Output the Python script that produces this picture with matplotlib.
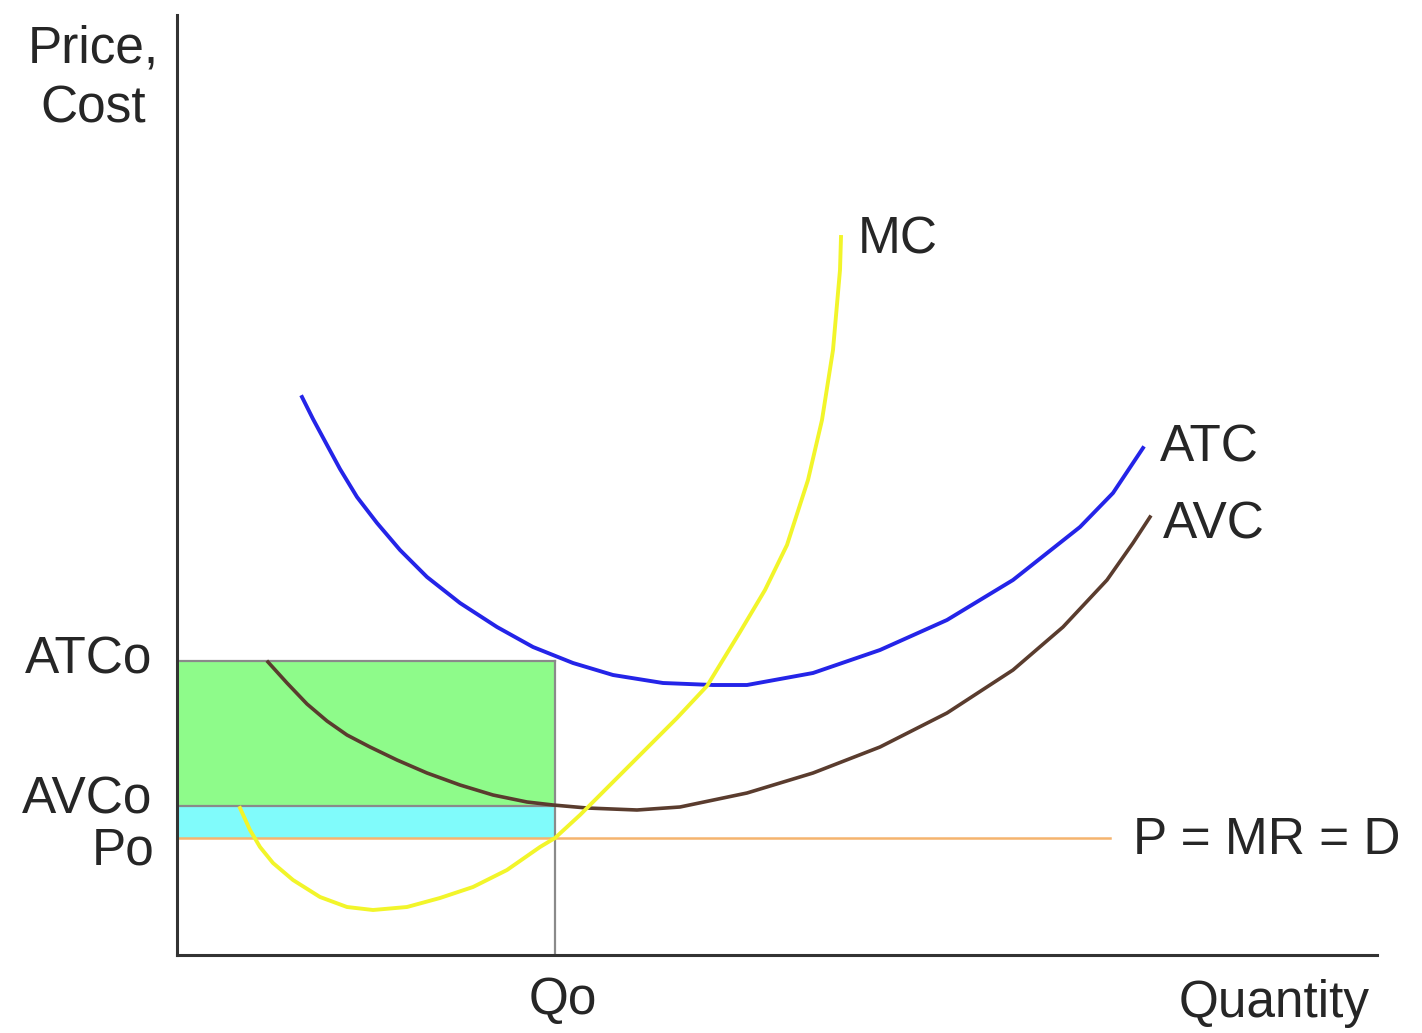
import matplotlib.pyplot as plt

plt.rcParams['font.family'] = ['Liberation Sans', 'DejaVu Sans']

# quantity / price
mc_q = [6.3, 7.3, 8.3, 9.6, 11.6, 14.3, 17.0, 19.6, 23.0, 26.3, 29.6, 33.0, 36.3, 37.8,
        40.3, 42.6, 46.3, 50.0, 53.0, 56.3, 58.8, 61.0, 63.1, 64.5, 65.6, 66.3, 66.4]
mc_p = [14.7, 12.5, 10.8, 9.2, 7.5, 5.8, 4.8, 4.5, 4.8, 5.7, 6.8, 8.5, 10.8, 11.7,
        14.0, 16.3, 20.0, 23.7, 26.9, 32.3, 36.5, 41.0, 47.5, 53.5, 60.5, 68.5, 71.8]

atc_q = [12.5, 13.6, 15.0, 16.3, 18.0, 20.0, 22.3, 25.0, 28.3, 32.0, 35.6, 39.6,
         43.6, 48.6, 53.6, 57.0, 63.6, 70.3, 77.0, 83.6, 90.3, 93.6, 96.6]
atc_p = [55.8, 53.6, 51.0, 48.6, 45.8, 43.2, 40.5, 37.8, 35.2, 32.8, 30.8, 29.2,
         28.0, 27.2, 27.0, 27.0, 28.2, 30.5, 33.5, 37.5, 42.8, 46.2, 50.7]

avc_q = [9.1, 11.0, 13.0, 15.0, 17.0, 19.3, 22.0, 25.0, 28.3, 31.6, 35.0, 37.6,
         41.0, 46.0, 50.3, 57.0, 63.6, 70.3, 77.0, 83.6, 88.6, 93.0, 95.6, 97.3]
avc_p = [29.3, 27.2, 25.1, 23.4, 22.0, 20.8, 19.5, 18.2, 17.0, 16.0, 15.3, 15.0,
         14.7, 14.5, 14.8, 16.2, 18.2, 20.8, 24.2, 28.5, 32.8, 37.5, 41.2, 43.8]

q0 = 37.8
atc0 = 29.4
avc0 = 14.9
p0 = 11.7
demand_end = 93.3

fig = plt.figure(figsize=(14.22, 10.33), dpi=100)
ax = fig.add_axes([177 / 1422, 78 / 1033, 1200 / 1422, 940 / 1033])
ax.set_xlim(0, 120)
ax.set_ylim(0, 94)

# shaded areas
ax.fill_between([0, q0], avc0, atc0, color='#8efb8a', lw=0, zorder=1)
ax.fill_between([0, q0], p0, avc0, color='#80fbfb', lw=0, zorder=1)

# reference lines
ax.plot([0, q0], [atc0, atc0], color='#8a8a8a', lw=1.6, zorder=2)
ax.plot([0, q0], [avc0, avc0], color='#8a8a8a', lw=1.6, zorder=2)
ax.plot([q0, q0], [0, atc0], color='#8a8a8a', lw=1.6, zorder=2)
ax.plot([0, demand_end], [p0, p0], color='#f5b46e', lw=1.8, zorder=2)

# cost curves
ax.plot(avc_q, avc_p, color='#5a3c2e', lw=2.6, zorder=3, solid_joinstyle='round')
ax.plot(atc_q, atc_p, color='#2424e8', lw=2.8, zorder=3, solid_joinstyle='round')
ax.plot(mc_q, mc_p, color='#f2f52a', lw=2.8, zorder=4, solid_joinstyle='round')

for s in ['top', 'right']:
    ax.spines[s].set_visible(False)
for s in ['left', 'bottom']:
    ax.spines[s].set_color('#333333')
    ax.spines[s].set_linewidth(2.2)
ax.set_xticks([])
ax.set_yticks([])

fs = 37
kw = dict(fontsize=fs, color='#262626', clip_on=False)
ax.text(-8.4, 87.6, 'Price,\nCost', ha='center', va='center', linespacing=1.3, **kw)
ax.text(68.1, 71.5, 'MC', ha='left', va='center', **kw)
ax.text(98.3, 50.7, 'ATC', ha='left', va='center', **kw)
ax.text(98.6, 43.0, 'AVC', ha='left', va='center', **kw)
ax.text(95.6, 11.5, 'P = MR = D', ha='left', va='center', **kw)
ax.text(-2.5, 29.5, 'ATCo', ha='right', va='center', **kw)
ax.text(-2.5, 15.5, 'AVCo', ha='right', va='center', **kw)
ax.text(-2.2, 10.4, 'Po', ha='right', va='center', **kw)
ax.text(38.6, -4.6, 'Qo', ha='center', va='center', **kw)
ax.text(119.3, -4.9, 'Quantity', ha='right', va='center', **kw)

fig.savefig('out.png', dpi=100)
